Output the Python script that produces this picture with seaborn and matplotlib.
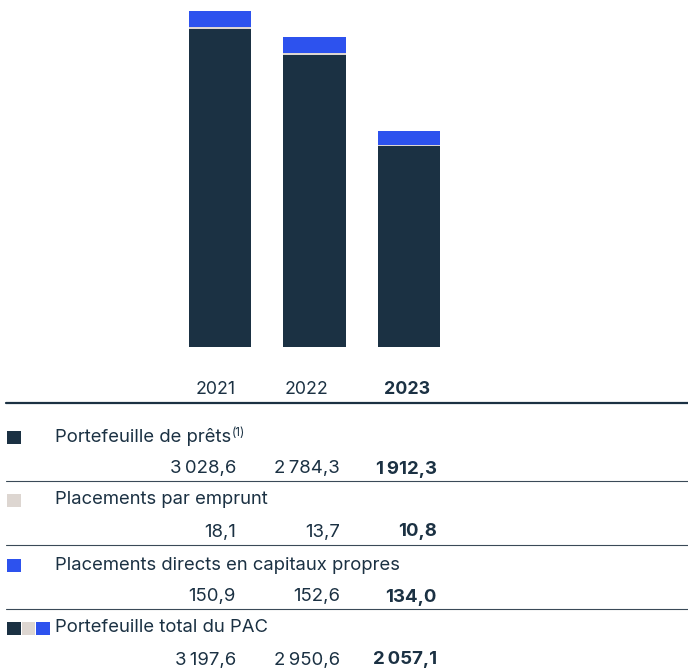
import matplotlib
matplotlib.use("Agg")
import matplotlib.pyplot as plt
import seaborn as sns
import pandas as pd
from matplotlib.patches import Rectangle
from matplotlib.lines import Line2D

# donnees (M$)
annees = ["2021", "2022", "2023"]
prets = [3028.6, 2784.3, 1912.3]
emprunt = [18.1, 13.7, 10.8]
capitaux = [150.9, 152.6, 134.0]
totaux = [3197.6, 2950.6, 2057.1]
libelles = ["Portefeuille de prêts", "Placements par emprunt",
            "Placements directs en capitaux propres", "Portefeuille total du PAC"]

navy = "#1b3143"
beige = "#ddd6d1"
bleu = "#2d52ee"

sns.set_theme(style="white")
plt.rcParams["font.family"] = ["Inter", "DejaVu Sans"]

W, H = 688, 668
def fx(x):
    return x / W
def fy(y):
    return 1 - y / H

def fmt(v):
    ent, dec = f"{v:.1f}".split(".")
    ent = f"{int(ent):,}".replace(",", "\u2009")
    return ent + "," + dec

df = pd.DataFrame({"annee": annees, "prets": prets, "emprunt": emprunt, "capitaux": capitaux})
df["cum1"] = df["prets"]
df["cum2"] = df["prets"] + df["emprunt"]
df["cum3"] = df["cum2"] + df["capitaux"]

fig = plt.figure(figsize=(6.88, 6.68), dpi=100)
ax = fig.add_axes([0, fy(347), 1, 1 - fy(347)])
# barres empilees : on dessine les cumuls du plus grand au plus petit
for col, c in [("cum3", bleu), ("cum2", beige), ("cum1", navy)]:
    sns.barplot(data=df, x="annee", y=col, color=c, width=0.66, saturation=1,
                linewidth=0, edgecolor="none", ax=ax)
unit = 94.5
ax.set_xlim(-220 / unit, (W - 220) / unit)
ax.set_ylim(0, 347 / 0.105)
ax.axis("off")

# tableau sous le graphique
col_x = [236, 340, 437]
an_x = [236, 328, 430]
for i, a in enumerate(annees):
    fig.text(fx(an_x[i]), fy(389), a, ha="right", va="center", fontsize=12.8,
             color=navy, fontweight="bold" if i == 2 else "normal")

fig.add_artist(Line2D([fx(6), fx(688)], [fy(402.5), fy(402.5)], color=navy, lw=1.6))

series = [prets, emprunt, capitaux, totaux]
lab_y = [437, 500, 565, 628]
val_y = [469, 532, 597, 660]
line_y = [481, 545, 609]
carres = [[navy], [beige], [bleu], [navy, beige, bleu]]

for k in range(4):
    for j, c in enumerate(carres[k]):
        fig.add_artist(Rectangle((fx(7 + 14.5 * j), fy(lab_y[k] + 6.5)), 13.5 / W, 13 / H,
                                 transform=fig.transFigure, color=c, lw=0))
    t = fig.text(fx(55), fy(lab_y[k]), libelles[k], ha="left", va="center",
                 fontsize=13.3, color=navy)
    if k == 0:
        ax.annotate("(1)", xy=(1, 1), xycoords=t, xytext=(0.2, 0.5), textcoords="offset points",
                    ha="left", va="top", fontsize=8.5, color=navy)
    for i in range(3):
        fig.text(fx(col_x[i]), fy(val_y[k]), fmt(series[k][i]), ha="right", va="center",
                 fontsize=13.4, color=navy, fontweight="bold" if i == 2 else "normal")
    if k < 3:
        fig.add_artist(Line2D([fx(6), fx(688)], [fy(line_y[k]), fy(line_y[k])],
                              color="#3a4a58", lw=0.8))

fig.savefig("out.png", dpi=100)
